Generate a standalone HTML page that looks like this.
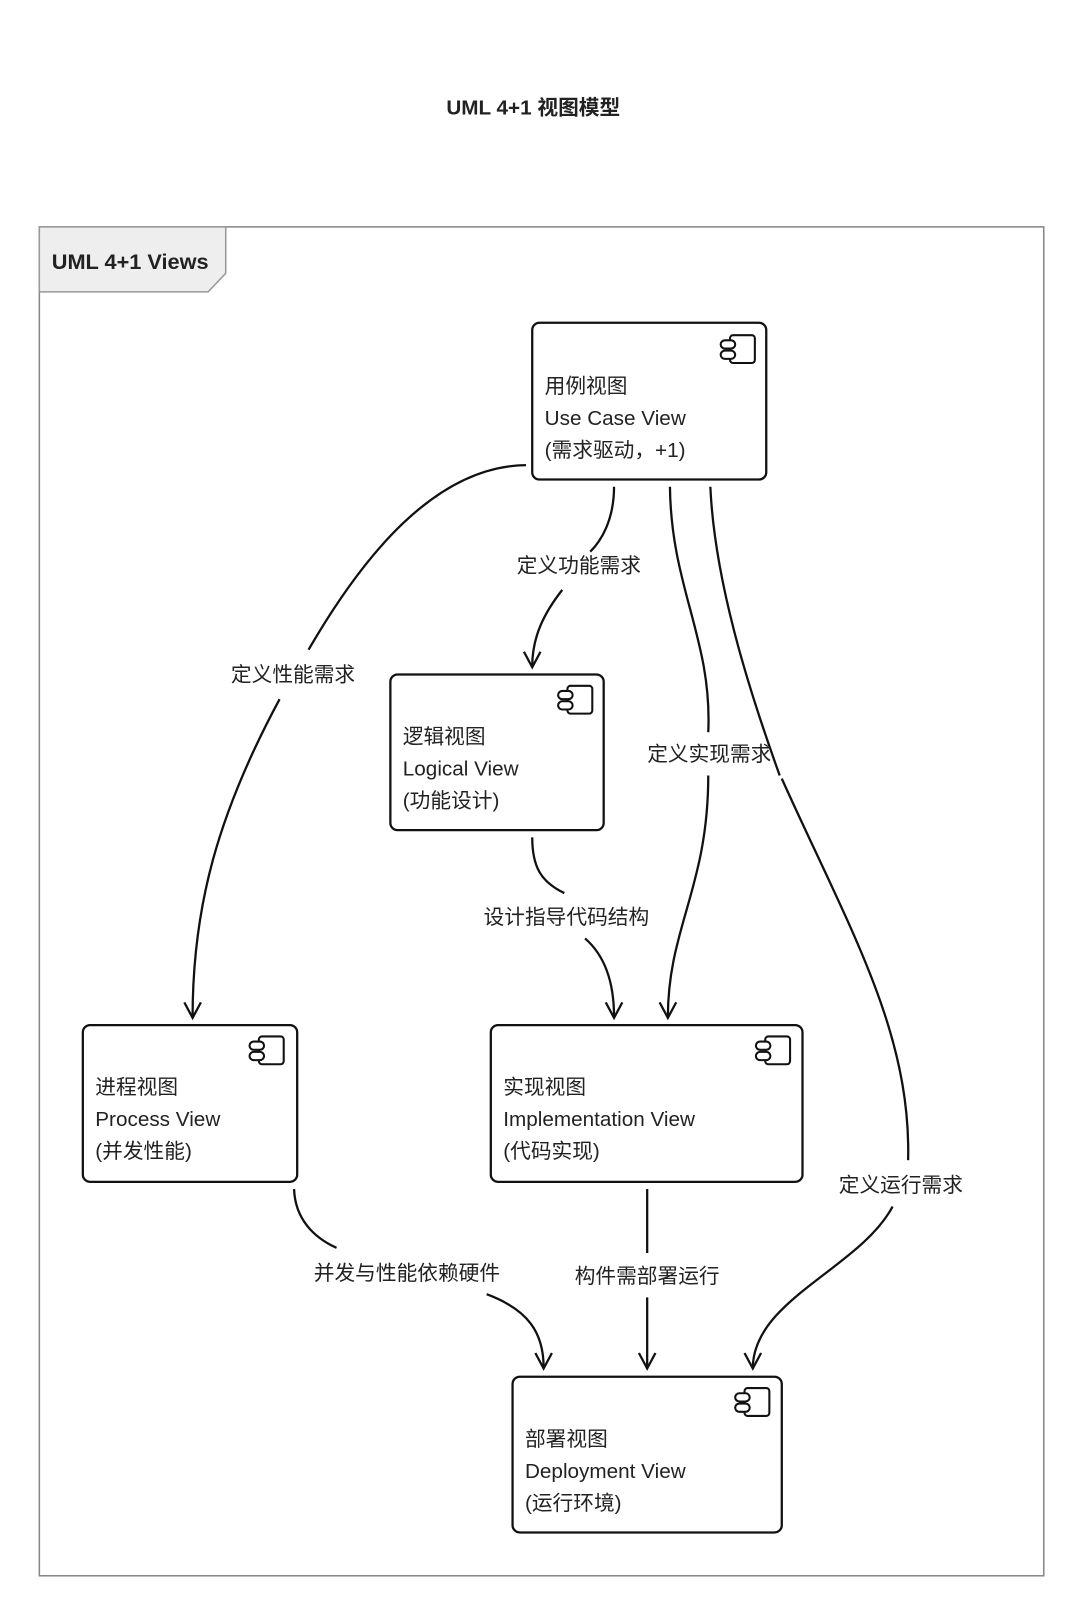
<!DOCTYPE html>
<html><head><meta charset="utf-8"><style>
html,body{margin:0;padding:0;background:#fff;}
svg{display:block;}
text{font-family:"Liberation Sans","Noto Sans CJK SC",sans-serif;fill:#222;}
</style></head><body>
<svg width="1080" height="1616" viewBox="0 0 1043 1567" preserveAspectRatio="none" xmlns="http://www.w3.org/2000/svg">
<defs>
<g id="ic">
<rect x="9" y="0" width="24" height="27" rx="3" fill="#fff" stroke="#111" stroke-width="2"/>
<rect x="0" y="5" width="14" height="8" rx="4" fill="#fff" stroke="#111" stroke-width="2"/>
<rect x="0" y="15" width="14" height="8" rx="4" fill="#fff" stroke="#111" stroke-width="2"/>
</g>
</defs>
<text x="515" y="111" font-size="20" font-weight="bold" text-anchor="middle">UML 4+1 视图模型</text>
<rect x="38" y="220" width="970" height="1308" fill="none" stroke="#888" stroke-width="1.5"/>
<path d="M38,220 H218 V265 L201,283 H38 Z" fill="#eee" stroke="#999" stroke-width="1.5"/>
<text x="50" y="261" font-size="21" font-weight="bold">UML 4+1 Views</text>

<g fill="#fff" stroke="#111" stroke-width="2.2">
<rect x="514" y="313" width="226" height="152" rx="7"/>
<rect x="377" y="654" width="206" height="151" rx="7"/>
<rect x="80" y="994" width="207" height="152" rx="7"/>
<rect x="474" y="994" width="301" height="152" rx="7"/>
<rect x="495" y="1335" width="260" height="151" rx="7"/>
</g>
<use href="#ic" x="696" y="325"/>
<use href="#ic" x="539" y="665"/>
<use href="#ic" x="241" y="1005"/>
<use href="#ic" x="730" y="1005"/>
<use href="#ic" x="710" y="1346"/>

<g font-size="20">
<text x="526" y="381">用例视图</text><text x="526" y="412">Use Case View</text><text x="526" y="443">(需求驱动，+1)</text>
<text x="389" y="721">逻辑视图</text><text x="389" y="752">Logical View</text><text x="389" y="783">(功能设计)</text>
<text x="92" y="1061">进程视图</text><text x="92" y="1092">Process View</text><text x="92" y="1123">(并发性能)</text>
<text x="486" y="1061">实现视图</text><text x="486" y="1092">Implementation View</text><text x="486" y="1123">(代码实现)</text>
<text x="507" y="1402">部署视图</text><text x="507" y="1433">Deployment View</text><text x="507" y="1464">(运行环境)</text>
</g>

<g fill="none" stroke="#111" stroke-width="2.2">
<path d="M508,451 C420,452 350,540 298,630"/>
<path d="M270,678 C210,790 186,880 186,986"/>
<path d="M593,472 C593,505 580,525 570,535"/>
<path d="M543,572 C525,595 514,618 514,646"/>
<path d="M647,472 C648,570 688,620 684,710"/>
<path d="M684,752 C684,860 645,900 645,986"/>
<path d="M686,472 C690,560 720,660 753,752"/>
<path d="M755,755 C820,900 880,1000 877,1125"/>
<path d="M862,1170 C830,1230 728,1260 727,1326"/>
<path d="M514,812 C514,840 522,855 545,866"/>
<path d="M565,910 C588,930 593,960 593,986"/>
<path d="M284,1153 C285,1182 303,1200 325,1210"/>
<path d="M470,1255 C510,1270 525,1292 525,1326"/>
<path d="M625,1153 V1215 M625,1258 V1326"/>
<g stroke-linejoin="miter">
<path d="M178,972 L186,987 L194,972"/>
<path d="M506,632 L514,647 L522,632"/>
<path d="M637,972 L645,987 L653,972"/>
<path d="M585,972 L593,987 L601,972"/>
<path d="M517,1312 L525,1327 L533,1312"/>
<path d="M617,1312 L625,1327 L633,1312"/>
<path d="M719,1312 L727,1327 L735,1312"/>
</g>
</g>

<g font-size="20" text-anchor="middle">
<text x="283" y="661">定义性能需求</text>
<text x="559" y="555">定义功能需求</text>
<text x="685" y="738">定义实现需求</text>
<text x="870" y="1156">定义运行需求</text>
<text x="547" y="896">设计指导代码结构</text>
<text x="393" y="1241">并发与性能依赖硬件</text>
<text x="625" y="1244">构件需部署运行</text>
</g>
</svg>
</body></html>
